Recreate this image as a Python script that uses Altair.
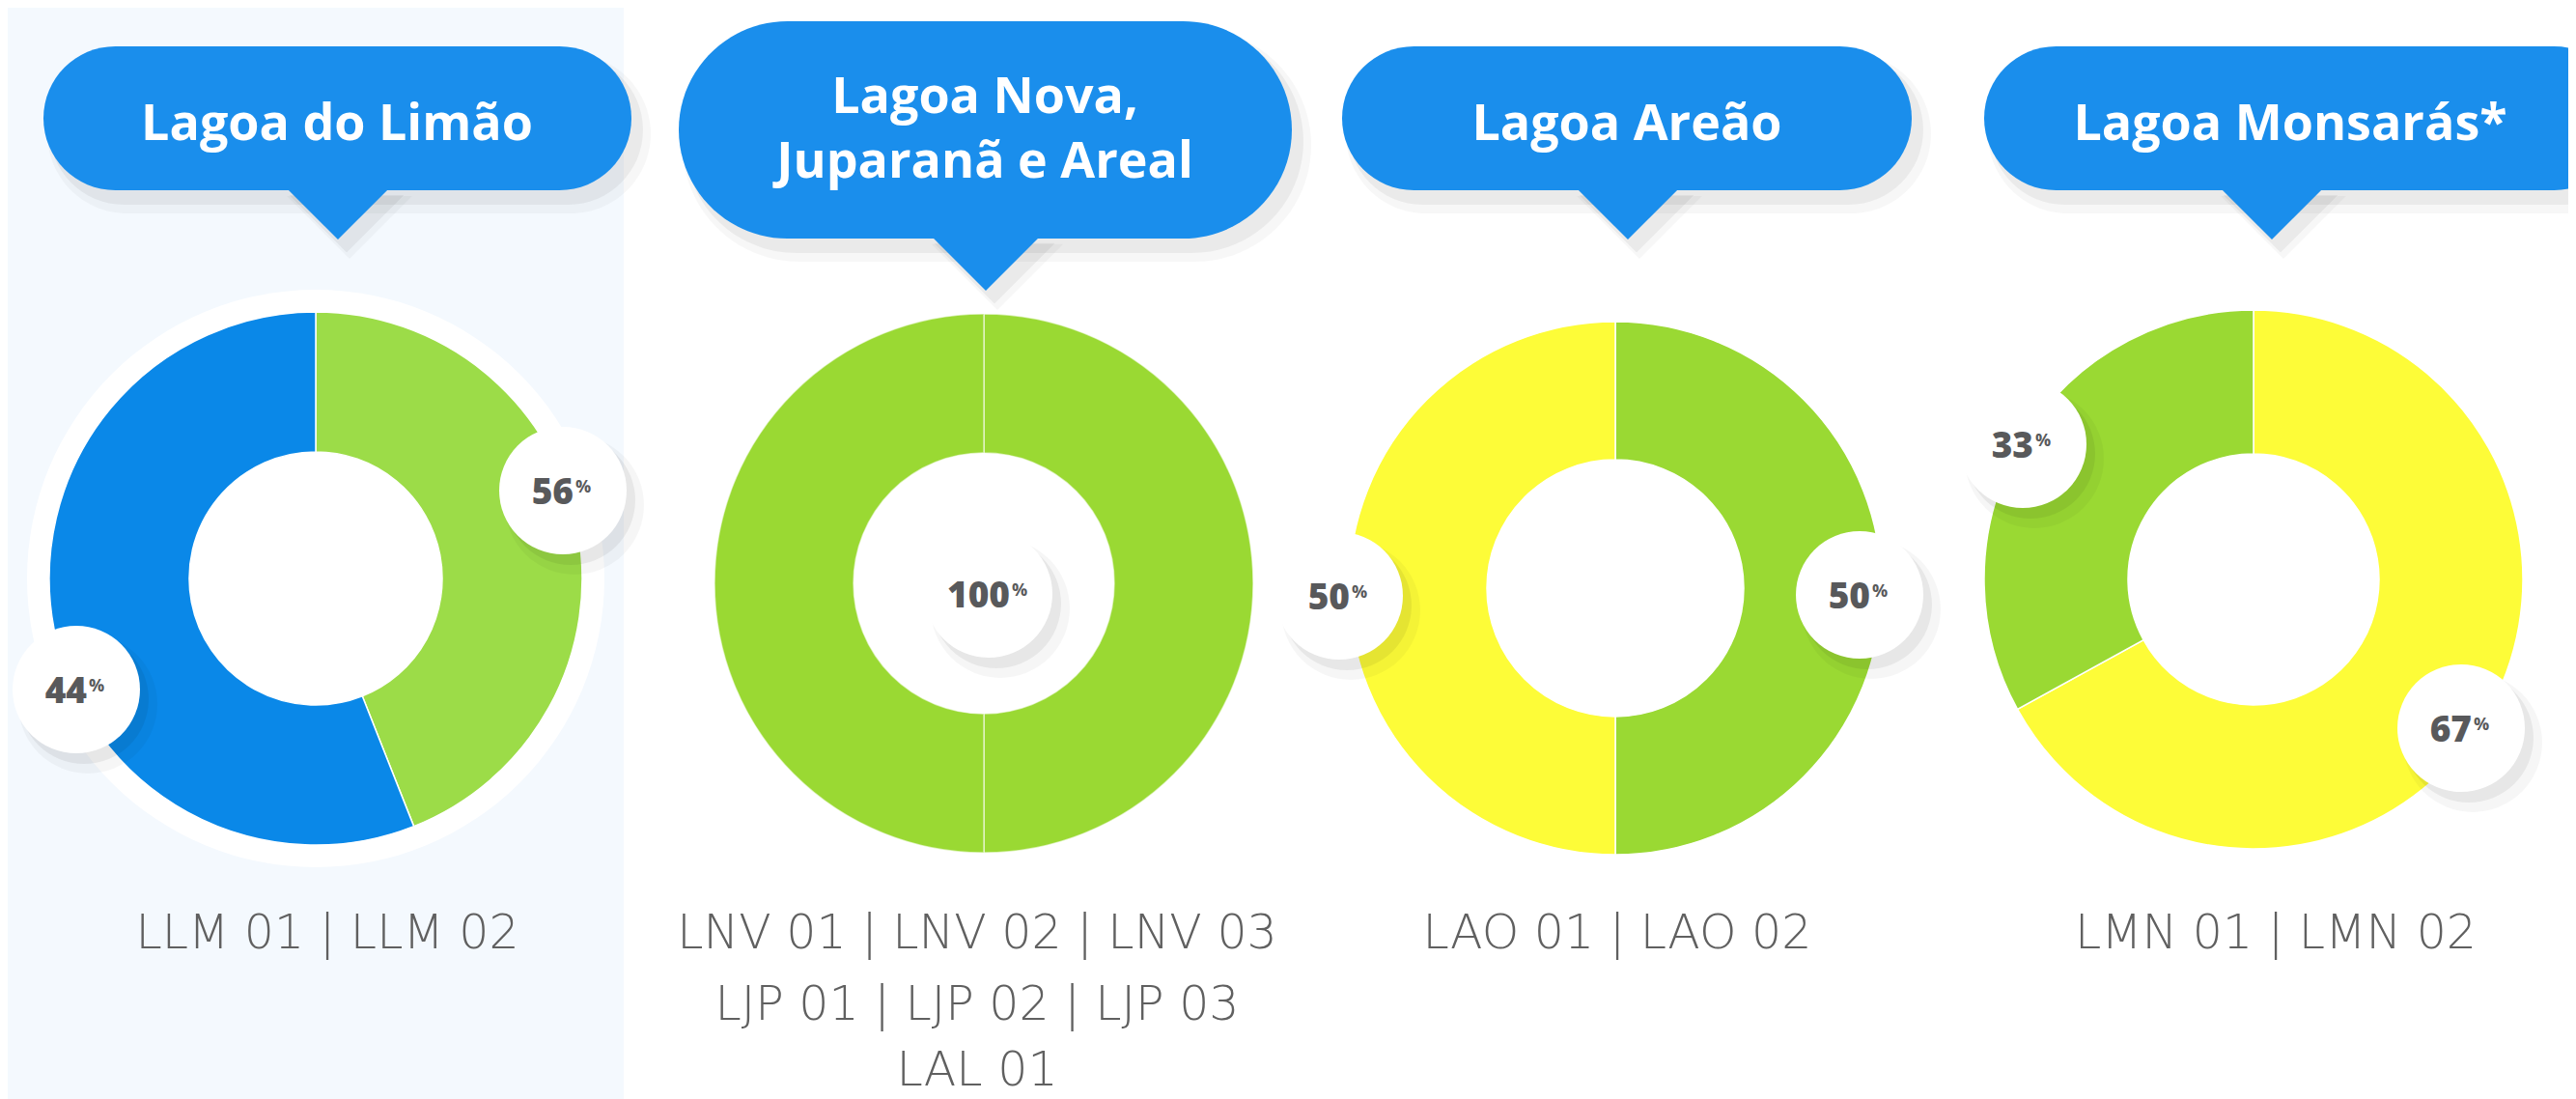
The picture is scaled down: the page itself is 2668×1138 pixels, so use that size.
import altair as alt
import pandas as pd

# ---------------- data ----------------
lagoas = ["Lagoa do Limão", "Lagoa Nova, Juparanã e Areal", "Lagoa Areão", "Lagoa Monsarás*"]
titulo_linhas = [["Lagoa do Limão"], ["Lagoa Nova,", "Juparanã e Areal"], ["Lagoa Areão"], ["Lagoa Monsarás*"]]
pontos_linhas = [
    ["LLM 01 | LLM 02"],
    ["LNV 01 | LNV 02 | LNV 03", "LJP 01 | LJP 02 | LJP 03", "LAL 01"],
    ["LAO 01 | LAO 02"],
    ["LMN 01 | LMN 02"],
]
# slice values, clockwise from 12 o'clock
fatias = [[44, 56], [50, 50], [50, 50], [67, 33]]
# percentages printed in the white circles
rotulos = [[56, 44], [100], [50, 50], [33, 67]]

# ---------------- style ----------------
AZUL = "#0a88e8"
VERDE_CLARO = "#9cdc48"
VERDE = "#9ad933"
AMARELO = "#fdfc38"
BALAO = "#1a8eec"
CINZA = "#58595b"
cores = [[VERDE_CLARO, AZUL], [VERDE, VERDE], [VERDE, AMARELO], [AMARELO, VERDE]]

# ---------------- layout (image pixels) ----------------
M = 8
W, H = 2652, 1130
centros = [(327, 599), (1019, 604), (1673, 609), (2334, 600)]
raio_ext = [276, 279, 276, 279]
raio_int = [131, 135, 133, 130]
circ_rot = [[(583, 508), (79, 714)], [(1024, 615)], [(1387, 617), (1926, 616)], [(2095, 460), (2549, 754)]]
R_ROT = 66
balao = [(45, 654, 48, 197), (703, 1338, 22, 247), (1390, 1980, 48, 197), (2055, 2720, 48, 197)]
ponta = [(350, 51), (1021, 54), (1686, 51), (2353, 51)]  # x of tip, half width
titulo_x = [349, 1020, 1685, 2372]
titulo_base = [[145], [117, 184], [145], [145]]
pontos_x = [339, 1012, 1675, 2357]
pontos_base = [982, 1056, 1124]

FONT_T = "Open Sans"
FONT_P = "DejaVu Sans"

dummy = pd.DataFrame({"k": [0]})


def X(v):
    return alt.value(v - M)


def Y(v):
    return alt.value(v - M)


layers = []

# light blue strip on the left
layers.append(alt.Chart(dummy).mark_rect(color="#f4f9fe").encode(
    x=alt.value(-M), x2=X(646), y=alt.value(-M), y2=alt.value(H + 20)))

# speech bubbles with soft shadows
tri = "M-1.1,-0.6L1.1,-0.6L0,0.5Z"
for i in range(4):
    x0, x1, y0, y1 = balao[i]
    cr = (y1 - y0) / 2
    tx, hw = ponta[i]
    for (ox, oy, grow, op) in [(12, 16, 8, 0.03), (9, 12, 3, 0.05)]:
        layers.append(alt.Chart(dummy).mark_rect(cornerRadius=cr + grow, color="#000000", opacity=op).encode(
            x=X(x0 + ox - grow), x2=X(x1 + ox + grow), y=Y(y0 + oy - grow), y2=Y(y1 + oy + grow)))
        layers.append(alt.Chart(dummy).mark_point(shape=tri, filled=True, size=(2 * (hw + grow)) ** 2,
                                                  color="#000000", opacity=op, strokeWidth=0).encode(
            x=X(tx + ox), y=Y(y1 + oy + hw / 2)))
    layers.append(alt.Chart(dummy).mark_rect(cornerRadius=cr, color=BALAO, opacity=1).encode(
        x=X(x0), x2=X(x1), y=Y(y0), y2=Y(y1)))
    layers.append(alt.Chart(dummy).mark_point(shape=tri, filled=True, size=(2 * hw) ** 2,
                                              color=BALAO, opacity=1, strokeWidth=0).encode(
        x=X(tx), y=Y(y1 + hw / 2)))
    for linha, base in zip(titulo_linhas[i], titulo_base[i]):
        layers.append(alt.Chart(dummy).mark_text(font=FONT_T, fontSize=52, fontWeight=700, color="white",
                                                 align="center", baseline="alphabetic").encode(
            x=X(titulo_x[i]), y=Y(base), text=alt.value(linha)))

# white halo behind the first donut
cx0, cy0 = centros[0]
layers.append(alt.Chart(dummy).mark_circle(color="white", opacity=1, size=(2 * 299) ** 2).encode(
    x=X(cx0), y=Y(cy0)))

# donuts
ids_all, cores_all = [], []
for i in range(4):
    for j, c in enumerate(cores[i]):
        ids_all.append(f"{lagoas[i]} #{j + 1}")
        cores_all.append(c)
cor_scale = alt.Scale(domain=ids_all, range=cores_all)

for i in range(4):
    df = pd.DataFrame({
        "lagoa": lagoas[i],
        "ordem": list(range(len(fatias[i]))),
        "fatia": [f"{lagoas[i]} #{j + 1}" for j in range(len(fatias[i]))],
        "valor": fatias[i],
    })
    cx, cy = centros[i]
    layers.append(alt.Chart(df).mark_arc(radius=raio_ext[i], radius2=raio_int[i], stroke="white",
                                         strokeWidth=1.5, strokeOpacity=0.6 if i == 1 else 1).encode(
        theta=alt.Theta("valor:Q", stack=True),
        order=alt.Order("ordem:Q"),
        color=alt.Color("fatia:N", scale=cor_scale, legend=None),
        x=X(cx), y=Y(cy)))

# percentage circles
DW = 22   # digit width
PW = 20   # width of the % sign plus gap
for i in range(4):
    for (px, py), val in zip(circ_rot[i], rotulos[i]):
        for (ox, oy, grow, op) in [(12, 15, 6, 0.035), (8, 10, 1, 0.06)]:
            layers.append(alt.Chart(dummy).mark_circle(color="#000000", opacity=op,
                                                       size=(2 * (R_ROT + grow)) ** 2).encode(
                x=X(px + ox), y=Y(py + oy)))
        layers.append(alt.Chart(dummy).mark_circle(color="white", opacity=1, size=(2 * R_ROT) ** 2).encode(
            x=X(px), y=Y(py)))
        txt = str(val)
        total = len(txt) * DW + PW
        tc = px - 1
        right = tc + total / 2 - PW
        layers.append(alt.Chart(dummy).mark_text(font=FONT_T, fontSize=37, fontWeight=800, color=CINZA,
                                                 align="right", baseline="alphabetic").encode(
            x=X(right), y=Y(py + 14), text=alt.value(txt)))
        layers.append(alt.Chart(dummy).mark_text(font=FONT_T, fontSize=18, fontWeight=700, color=CINZA,
                                                 align="left", baseline="alphabetic").encode(
            x=X(right + 2), y=Y(py + 2), text=alt.value("%")))

# sampling point labels
for i in range(4):
    for linha, base in zip(pontos_linhas[i], pontos_base):
        layers.append(alt.Chart(dummy).mark_text(font=FONT_P, fontSize=49, fontWeight=200, color="#606060",
                                                 align="center", baseline="alphabetic").encode(
            x=X(pontos_x[i]), y=Y(base), text=alt.value(linha)))

chart = alt.layer(*layers).properties(
    width=W, height=H, padding=0, autosize="none", background="white"
).configure_view(stroke=None)

chart.save("out.html", embed_options={"renderer": "svg", "actions": False})
